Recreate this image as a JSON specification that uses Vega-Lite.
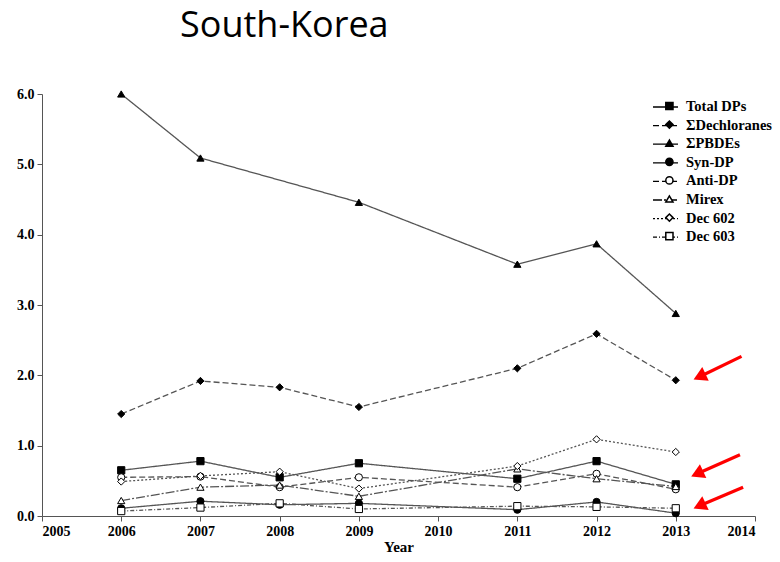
{
  "$schema": "https://vega.github.io/schema/vega-lite/v6.json",
  "width": 713,
  "height": 422,
  "autosize": {"type": "none"},
  "padding": {"left": 42, "top": 94, "right": 25, "bottom": 46},
  "background": "white",
  "title": {"text": "South-Korea", "anchor": "start", "frame": "group", "dx": 138, "offset": 42, "font": "Open Sans", "fontSize": 36, "fontWeight": "normal", "color": "#000"},
  "config": {
    "view": {"stroke": null},
    "axis": {"labelFont": "Liberation Serif", "labelFontWeight": "bold", "labelFontSize": 14, "labelColor": "#000", "titleFont": "Liberation Serif", "titleFontWeight": "bold", "titleFontSize": 15, "titleColor": "#000", "domainColor": "#555", "tickColor": "#555", "grid": false}
  },
  "datasets": {
    "arrows": [
      {"year": 2013.3, "value": 1.98, "year0": 2013.83, "value0": 2.27},
      {"year": 2013.27, "value": 0.6, "year0": 2013.81, "value0": 0.87},
      {"year": 2013.3, "value": 0.145, "year0": 2013.85, "value0": 0.41}
    ]
  },
  "data": {"values": [
    {"year": 2006, "series": "Total DPs", "value": 0.65},
    {"year": 2007, "series": "Total DPs", "value": 0.78},
    {"year": 2008, "series": "Total DPs", "value": 0.55},
    {"year": 2009, "series": "Total DPs", "value": 0.75},
    {"year": 2011, "series": "Total DPs", "value": 0.53},
    {"year": 2012, "series": "Total DPs", "value": 0.78},
    {"year": 2013, "series": "Total DPs", "value": 0.45},
    {"year": 2006, "series": "ΣDechloranes", "value": 1.45},
    {"year": 2007, "series": "ΣDechloranes", "value": 1.92},
    {"year": 2008, "series": "ΣDechloranes", "value": 1.83},
    {"year": 2009, "series": "ΣDechloranes", "value": 1.55},
    {"year": 2011, "series": "ΣDechloranes", "value": 2.1},
    {"year": 2012, "series": "ΣDechloranes", "value": 2.59},
    {"year": 2013, "series": "ΣDechloranes", "value": 1.93},
    {"year": 2006, "series": "ΣPBDEs", "value": 6.0},
    {"year": 2007, "series": "ΣPBDEs", "value": 5.09},
    {"year": 2009, "series": "ΣPBDEs", "value": 4.46},
    {"year": 2011, "series": "ΣPBDEs", "value": 3.58},
    {"year": 2012, "series": "ΣPBDEs", "value": 3.87},
    {"year": 2013, "series": "ΣPBDEs", "value": 2.88},
    {"year": 2006, "series": "Syn-DP", "value": 0.11},
    {"year": 2007, "series": "Syn-DP", "value": 0.21},
    {"year": 2008, "series": "Syn-DP", "value": 0.16},
    {"year": 2009, "series": "Syn-DP", "value": 0.18},
    {"year": 2011, "series": "Syn-DP", "value": 0.09},
    {"year": 2012, "series": "Syn-DP", "value": 0.2},
    {"year": 2013, "series": "Syn-DP", "value": 0.04},
    {"year": 2006, "series": "Anti-DP", "value": 0.55},
    {"year": 2007, "series": "Anti-DP", "value": 0.56},
    {"year": 2008, "series": "Anti-DP", "value": 0.41},
    {"year": 2009, "series": "Anti-DP", "value": 0.55},
    {"year": 2011, "series": "Anti-DP", "value": 0.41},
    {"year": 2012, "series": "Anti-DP", "value": 0.6},
    {"year": 2013, "series": "Anti-DP", "value": 0.38},
    {"year": 2006, "series": "Mirex", "value": 0.22},
    {"year": 2007, "series": "Mirex", "value": 0.41},
    {"year": 2008, "series": "Mirex", "value": 0.44},
    {"year": 2009, "series": "Mirex", "value": 0.28},
    {"year": 2011, "series": "Mirex", "value": 0.67},
    {"year": 2012, "series": "Mirex", "value": 0.53},
    {"year": 2013, "series": "Mirex", "value": 0.42},
    {"year": 2006, "series": "Dec 602", "value": 0.49},
    {"year": 2007, "series": "Dec 602", "value": 0.57},
    {"year": 2008, "series": "Dec 602", "value": 0.63},
    {"year": 2009, "series": "Dec 602", "value": 0.39},
    {"year": 2011, "series": "Dec 602", "value": 0.71},
    {"year": 2012, "series": "Dec 602", "value": 1.09},
    {"year": 2013, "series": "Dec 602", "value": 0.91},
    {"year": 2006, "series": "Dec 603", "value": 0.07},
    {"year": 2007, "series": "Dec 603", "value": 0.12},
    {"year": 2008, "series": "Dec 603", "value": 0.18},
    {"year": 2009, "series": "Dec 603", "value": 0.1},
    {"year": 2011, "series": "Dec 603", "value": 0.14},
    {"year": 2012, "series": "Dec 603", "value": 0.13},
    {"year": 2013, "series": "Dec 603", "value": 0.11}
  ]},
  "encoding": {
    "x": {"field": "year", "type": "quantitative", "scale": {"domain": [2005, 2014], "nice": false, "zero": false}, "axis": {"title": "Year", "format": "d", "values": [2005, 2006, 2007, 2008, 2009, 2010, 2011, 2012, 2013, 2014], "tickSize": 5, "labelPadding": 3, "titlePadding": 1}},
    "y": {"field": "value", "type": "quantitative", "scale": {"domain": [0, 6], "nice": false}, "axis": {"title": null, "format": ".1f", "values": [0, 1, 2, 3, 4, 5, 6], "tickSize": 5, "labelPadding": 3}}
  },
  "layer": [
    {
      "mark": {"type": "line", "stroke": "#555", "strokeWidth": 1.3},
      "encoding": {
        "strokeDash": {"field": "series", "type": "nominal",
          "sort": ["Total DPs", "ΣDechloranes", "ΣPBDEs", "Syn-DP", "Anti-DP", "Mirex", "Dec 602", "Dec 603"],
          "scale": {"range": [[1, 0], [6, 3], [1, 0], [1, 0], [6, 3], [9, 2, 2, 2], [2, 2], [4, 2, 1, 2]]},
          "legend": {"title": null, "orient": "none", "legendX": 614.5, "legendY": 4, "symbolType": "M-1.5625,0H1.5625", "symbolSize": 256, "symbolFillColor": "transparent", "symbolStrokeColor": "#000", "symbolStrokeWidth": 1.3, "labelFont": "Liberation Serif", "labelFontWeight": "bold", "labelFontSize": 14.5, "labelColor": "#000", "labelOffset": 11.5, "rowPadding": 2.6}}
      }
    },
    {
      "mark": {"type": "point", "stroke": "#000", "strokeWidth": 1, "size": 52, "opacity": 1},
      "encoding": {
        "shape": {"field": "series", "type": "nominal",
          "scale": {"domain": ["Total DPs", "ΣDechloranes", "ΣPBDEs", "Syn-DP", "Anti-DP", "Mirex", "Dec 602", "Dec 603"],
            "range": ["square", "diamond", "triangle-up", "circle", "circle", "triangle-up", "diamond", "square"]},
          "legend": {"title": null, "orient": "none", "legendX": 619.4, "legendY": 4, "symbolSize": 52, "labelFont": "Liberation Serif", "labelFontSize": 16, "labelExpr": "''", "labelOffset": 0, "rowPadding": 2.6,
            "encode": {"symbols": {"update": {"stroke": {"value": "#000"}, "strokeWidth": {"value": 1}, "opacity": {"value": 1}}}}}},
        "fill": {"field": "series", "type": "nominal",
          "scale": {"domain": ["Total DPs", "ΣDechloranes", "ΣPBDEs", "Syn-DP", "Anti-DP", "Mirex", "Dec 602", "Dec 603"],
            "range": ["#000", "#000", "#000", "#000", "#fff", "#fff", "#fff", "#fff"]},
          "legend": {"title": null, "orient": "none", "legendX": 619.4, "legendY": 4, "symbolSize": 52, "labelFont": "Liberation Serif", "labelFontSize": 16, "labelExpr": "''", "labelOffset": 0, "rowPadding": 2.6,
            "encode": {"symbols": {"update": {"stroke": {"value": "#000"}, "strokeWidth": {"value": 1}, "opacity": {"value": 1}}}}}}
      }
    },
    {
      "data": {"name": "arrows"},
      "mark": {"type": "rule", "color": "#ff0000", "strokeWidth": 3.2},
      "encoding": {
        "x": {"field": "year0", "type": "quantitative"},
        "y": {"field": "value0", "type": "quantitative"},
        "x2": {"field": "year"},
        "y2": {"field": "value"}
      }
    },
    {
      "data": {"name": "arrows"},
      "mark": {"type": "point", "shape": "triangle-up", "filled": true, "color": "#ff0000", "size": 230, "angle": 245, "opacity": 1},
      "encoding": {}
    }
  ]
}
